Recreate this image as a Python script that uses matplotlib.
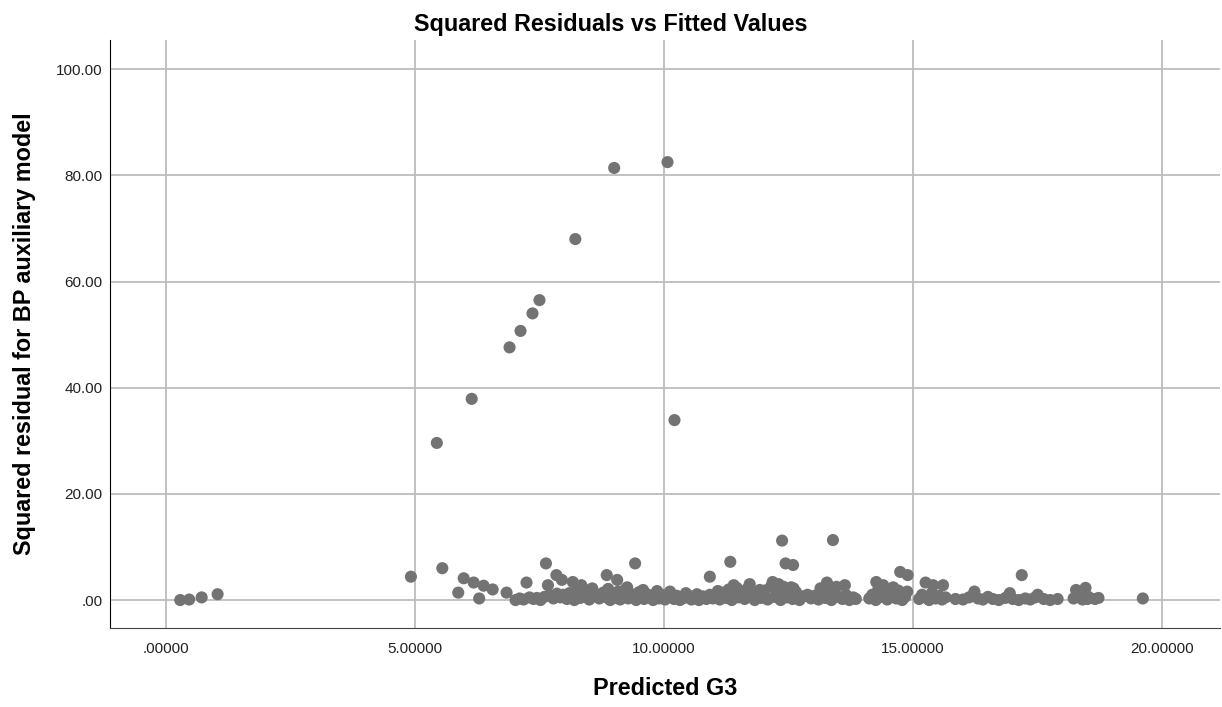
import matplotlib.pyplot as plt
import numpy as np

plt.rcParams['font.family'] = ['Liberation Sans', 'DejaVu Sans']

# points clearly away from the bottom band
outlier_x = [5.44, 6.14, 6.90, 7.12, 7.36, 7.50, 8.22, 9.00, 10.07, 10.21]
outlier_y = [29.6, 37.9, 47.6, 50.7, 54.0, 56.5, 68.0, 81.4, 82.5, 33.9]

# low-lying points
low_x = [0.29, 0.47, 0.72, 1.04, 4.92, 5.55, 5.87, 5.98, 6.18, 6.29, 6.38, 6.56,
         6.84, 7.24, 7.63, 7.67, 7.84, 7.95, 8.17, 8.34, 8.56, 8.85, 9.06, 9.42,
         10.92, 11.33, 11.40, 11.72, 12.37, 12.44, 12.59, 12.18, 12.30, 12.40,
         12.60, 13.27, 13.39, 13.63, 14.26, 14.40, 14.74, 14.89, 14.70, 15.25,
         15.40, 15.60, 16.23, 16.94, 17.18, 17.50, 17.90, 18.27, 18.46, 18.50,
         18.72, 19.61]
low_y = [0.0, 0.1, 0.5, 1.1, 4.4, 6.0, 1.4, 4.1, 3.3, 0.3, 2.7, 2.0,
         1.4, 3.3, 6.9, 2.8, 4.7, 3.8, 3.4, 2.8, 2.2, 4.7, 3.8, 6.9,
         4.4, 7.2, 2.8, 3.0, 11.2, 6.9, 6.6, 3.4, 3.0, 2.5,
         2.2, 3.3, 11.3, 2.8, 3.4, 2.8, 5.3, 4.7, 1.8, 3.3,
         2.8, 2.8, 1.6, 1.3, 4.7, 1.0, 0.2, 1.9, 2.3, 0.2,
         0.4, 0.3]

# dense band near zero
band_x = [7.02, 7.10, 7.18, 7.30, 7.38, 7.45, 7.52, 7.60, 7.70, 7.78, 7.85, 7.92, 7.98,
          8.05, 8.10, 8.15, 8.20, 8.26, 8.32, 8.38, 8.45, 8.50, 8.55, 8.62, 8.70, 8.78, 8.85, 8.92, 8.97,
          9.03, 9.08, 9.12, 9.18, 9.22, 9.28, 9.33, 9.38, 9.44, 9.50, 9.55, 9.60, 9.66, 9.72, 9.78, 9.84, 9.90, 9.95,
          10.02, 10.08, 10.14, 10.20, 10.26, 10.32, 10.40, 10.48, 10.55, 10.62, 10.70, 10.78, 10.85, 10.92, 10.98,
          11.05, 11.12, 11.18, 11.25, 11.30, 11.36, 11.42, 11.50, 11.56, 11.62, 11.68, 11.75, 11.82, 11.88, 11.95,
          12.02, 12.08, 12.15, 12.22, 12.28, 12.34, 12.40, 12.46, 12.52, 12.58, 12.65, 12.72, 12.80, 12.88, 12.95,
          13.02, 13.10, 13.18, 13.24, 13.30, 13.36, 13.42, 13.50, 13.58, 13.65, 13.72, 13.80, 13.85,
          14.12, 14.18, 14.25, 14.30, 14.36, 14.42, 14.48, 14.55, 14.60, 14.66, 14.72, 14.78, 14.84, 14.88,
          15.12, 15.18, 15.25, 15.32, 15.38, 15.45, 15.52, 15.58, 15.65,
          15.85, 16.00, 16.12, 16.30, 16.40, 16.50, 16.60, 16.72, 16.85, 17.00, 17.12, 17.25, 17.35, 17.45, 17.62, 17.75,
          18.22, 18.30, 18.40, 18.52, 18.65,
          8.88, 9.26, 9.58, 9.86, 10.12, 10.44, 10.66, 11.08, 11.46, 11.92, 12.55, 13.14, 13.46, 14.52]
band_y = [0.0, 0.3, 0.1, 0.5, 0.2, 0.4, 0.0, 0.6, 0.9, 0.3, 1.2, 0.5, 1.0,
          0.2, 1.3, 0.6, 0.0, 1.5, 0.4, 0.9, 1.8, 0.1, 0.7, 1.1, 0.3, 1.4, 0.5, 0.0, 1.0,
          0.4, 1.6, 0.1, 0.8, 2.0, 0.3, 1.2, 0.6, 0.0, 1.5, 0.9, 0.2, 1.1, 0.5, 0.0, 0.8, 0.3, 1.0,
          0.1, 0.6, 1.2, 0.2, 0.8, 0.0, 0.4, 0.9, 0.1, 0.5, 0.0, 0.7, 0.2, 1.0, 0.3,
          0.8, 0.1, 1.4, 0.4, 2.0, 0.0, 1.0, 0.5, 1.6, 0.2, 2.2, 0.7, 0.0, 1.2, 0.4,
          1.8, 0.1, 2.6, 0.6, 1.4, 0.0, 2.0, 0.5, 1.1, 0.2, 1.5, 0.0, 0.7, 1.0, 0.3,
          0.8, 0.1, 1.5, 0.4, 2.0, 0.0, 1.2, 0.6, 0.2, 1.0, 0.0, 0.5, 0.2,
          0.3, 1.0, 0.0, 2.0, 0.6, 1.5, 0.1, 0.9, 2.4, 0.3, 1.2, 0.0, 0.6, 1.6,
          0.2, 1.0, 0.5, 0.0, 1.4, 0.3, 0.8, 0.1, 0.5,
          0.2, 0.1, 0.5, 0.3, 0.1, 0.6, 0.2, 0.0, 0.4, 0.2, 0.0, 0.3, 0.1, 0.5, 0.2, 0.0,
          0.3, 1.0, 0.1, 0.6, 0.2,
          2.1, 2.4, 1.9, 1.7, 1.6, 1.3, 1.1, 1.7, 2.3, 1.9, 2.4, 2.2, 2.5, 1.9]

x = np.array(outlier_x + low_x + band_x)
y = np.array(outlier_y + low_y + band_y)

fig = plt.figure(figsize=(12.22, 7.07), dpi=100)
ax = fig.add_axes([0.09, 0.1117, 0.908, 0.8317])

ax.scatter(x, y, s=76, color='#737373', edgecolors='none', zorder=3)

ax.set_xlim(-1.12, 21.15)
ax.set_ylim(-5.27, 105.5)
ax.set_xticks([0, 5, 10, 15, 20])
ax.set_xticklabels(['.00000', '5.00000', '10.00000', '15.00000', '20.00000'])
ax.set_yticks([0, 20, 40, 60, 80, 100])
ax.set_yticklabels(['.00', '20.00', '40.00', '60.00', '80.00', '100.00'])
ax.tick_params(length=0, labelsize=11, colors='#222222')
ax.tick_params(axis='x', pad=10)
ax.tick_params(axis='y', pad=5.5)

ax.grid(True, color='#bdbdbd', linewidth=1.3, zorder=0)
ax.set_axisbelow(True)
for side in ['top', 'right']:
    ax.spines[side].set_visible(False)
ax.spines['left'].set_color('black')
ax.spines['bottom'].set_color('#444444')

# title is centred on the figure, not the axes
fig.text(0.5, 1 - 31 / 707, 'Squared Residuals vs Fitted Values', fontsize=16.8,
         fontweight='bold', ha='center', va='baseline')
ax.set_xlabel('Predicted G3', fontsize=16.8, fontweight='bold')
ax.xaxis.set_label_coords(0.5, -0.083)
ax.set_ylabel('Squared residual for BP auxiliary model', fontsize=16.8, fontweight='bold')
ax.yaxis.set_label_coords(-0.067, 0.5)

fig.savefig('out.png', dpi=100)
